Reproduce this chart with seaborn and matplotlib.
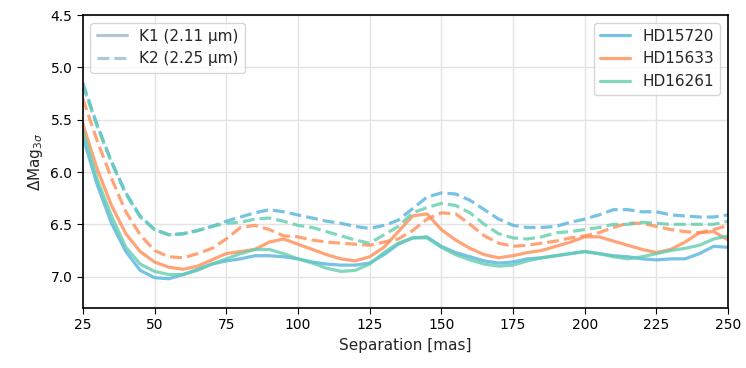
import numpy as np
import pandas as pd
import matplotlib
matplotlib.use('Agg')
import matplotlib.pyplot as plt
from matplotlib.lines import Line2D
import seaborn as sns

# Separation grid [mas]
sep = list(range(25, 251, 5))

stars = ['HD15720', 'HD15633', 'HD16261']
colors = {'HD15720': '#56b3e0', 'HD15633': '#ff8e56', 'HD16261': '#63cdb0'}

# K1 (2.11 um) contrast curves
k1_hd15720 = [5.66, 6.12, 6.49, 6.76, 6.94, 7.01, 7.02, 6.98, 6.93, 6.88,
              6.85, 6.83, 6.80, 6.80, 6.81, 6.83, 6.86, 6.88, 6.89, 6.89,
              6.87, 6.79, 6.69, 6.63, 6.62, 6.71, 6.77, 6.81, 6.85, 6.87,
              6.86, 6.83, 6.82, 6.80, 6.78, 6.76, 6.78, 6.80, 6.81, 6.83,
              6.84, 6.83, 6.83, 6.78, 6.71, 6.72]
k1_hd15633 = [5.54, 5.97, 6.32, 6.59, 6.76, 6.86, 6.91, 6.93, 6.90, 6.84,
              6.78, 6.76, 6.74, 6.67, 6.64, 6.69, 6.74, 6.79, 6.83, 6.85,
              6.81, 6.72, 6.57, 6.42, 6.40, 6.55, 6.65, 6.73, 6.79, 6.82,
              6.80, 6.77, 6.75, 6.71, 6.67, 6.62, 6.62, 6.66, 6.70, 6.74,
              6.77, 6.74, 6.67, 6.58, 6.57, 6.65]
k1_hd16261 = [5.60, 6.07, 6.42, 6.72, 6.88, 6.95, 6.98, 6.98, 6.94, 6.88,
              6.83, 6.78, 6.74, 6.74, 6.78, 6.83, 6.87, 6.92, 6.95, 6.94,
              6.88, 6.77, 6.68, 6.63, 6.63, 6.72, 6.79, 6.84, 6.88, 6.90,
              6.89, 6.85, 6.82, 6.80, 6.78, 6.76, 6.78, 6.81, 6.83, 6.81,
              6.78, 6.75, 6.73, 6.70, 6.64, 6.61]

# K2 (2.25 um) contrast curves
k2_hd15720 = [5.15, 5.55, 5.90, 6.20, 6.42, 6.55, 6.60, 6.59, 6.56, 6.52,
              6.47, 6.43, 6.39, 6.36, 6.38, 6.41, 6.44, 6.47, 6.49, 6.52,
              6.54, 6.51, 6.46, 6.35, 6.24, 6.20, 6.21, 6.27, 6.36, 6.45,
              6.51, 6.53, 6.53, 6.52, 6.48, 6.45, 6.41, 6.36, 6.36, 6.38,
              6.38, 6.41, 6.42, 6.43, 6.43, 6.41]
k2_hd15633 = [5.30, 5.70, 6.06, 6.38, 6.60, 6.75, 6.81, 6.82, 6.78, 6.73,
              6.64, 6.53, 6.51, 6.55, 6.61, 6.62, 6.65, 6.67, 6.68, 6.69,
              6.70, 6.67, 6.64, 6.56, 6.45, 6.39, 6.40, 6.50, 6.61, 6.68,
              6.71, 6.70, 6.68, 6.66, 6.63, 6.61, 6.58, 6.53, 6.49, 6.49,
              6.52, 6.55, 6.57, 6.58, 6.55, 6.51]
k2_hd16261 = [5.17, 5.56, 5.91, 6.21, 6.43, 6.55, 6.60, 6.59, 6.56, 6.52,
              6.49, 6.48, 6.45, 6.44, 6.47, 6.51, 6.53, 6.57, 6.61, 6.65,
              6.68, 6.60, 6.52, 6.39, 6.34, 6.30, 6.32, 6.39, 6.50, 6.59,
              6.63, 6.64, 6.62, 6.58, 6.57, 6.55, 6.53, 6.50, 6.50, 6.48,
              6.49, 6.50, 6.50, 6.50, 6.50, 6.47]

curves = {
    ('HD15720', 'K1'): k1_hd15720, ('HD15720', 'K2'): k2_hd15720,
    ('HD15633', 'K1'): k1_hd15633, ('HD15633', 'K2'): k2_hd15633,
    ('HD16261', 'K1'): k1_hd16261, ('HD16261', 'K2'): k2_hd16261,
}

rows = []
for (star, band), vals in curves.items():
    for s, v in zip(sep, vals):
        rows.append({'sep': s, 'mag': v, 'star': star, 'band': band})
df = pd.DataFrame(rows)

sns.set_style('ticks')
plt.rcParams['font.family'] = ['DejaVu Sans']

fig, ax = plt.subplots(figsize=(7.46, 3.68), dpi=100)
fig.subplots_adjust(left=0.111, right=0.976, top=0.959, bottom=0.163)

for star in stars:
    for band, ls in [('K1', '-'), ('K2', '--')]:
        sub = df[(df['star'] == star) & (df['band'] == band)]
        sns.lineplot(data=sub, x='sep', y='mag', ax=ax, color=colors[star],
                     linestyle=ls, linewidth=2.3, alpha=0.8, legend=False)

ax.set_xlim(25, 250)
ax.set_ylim(7.3, 4.5)
ax.set_xticks(range(25, 251, 25))
ax.set_yticks([4.5, 5.0, 5.5, 6.0, 6.5, 7.0])
ax.grid(True, color='#e3e3e3', linewidth=1)
ax.set_axisbelow(True)
ax.tick_params(labelsize=10, colors='black', direction='out', length=4)
for sp in ax.spines.values():
    sp.set_color('black')
    sp.set_linewidth(1.2)
ax.set_xlabel('Separation [mas]', fontsize=11)
ax.set_ylabel(r'$\Delta$Mag$_{3\sigma}$', fontsize=11)

band_handles = [Line2D([], [], color='#aac0d2', lw=2.3, ls='-', alpha=0.9),
                Line2D([], [], color='#aac0d2', lw=2.3, ls='--', alpha=0.9)]
leg1 = ax.legend(band_handles, ['K1 (2.11 µm)', 'K2 (2.25 µm)'],
                 loc='upper left', fontsize=11, framealpha=0.8)
ax.add_artist(leg1)
star_handles = [Line2D([], [], color=colors[s], lw=2.3, alpha=0.8) for s in stars]
ax.legend(star_handles, stars, loc='upper right', fontsize=11, framealpha=0.8)

fig.savefig('out.png', dpi=100)
